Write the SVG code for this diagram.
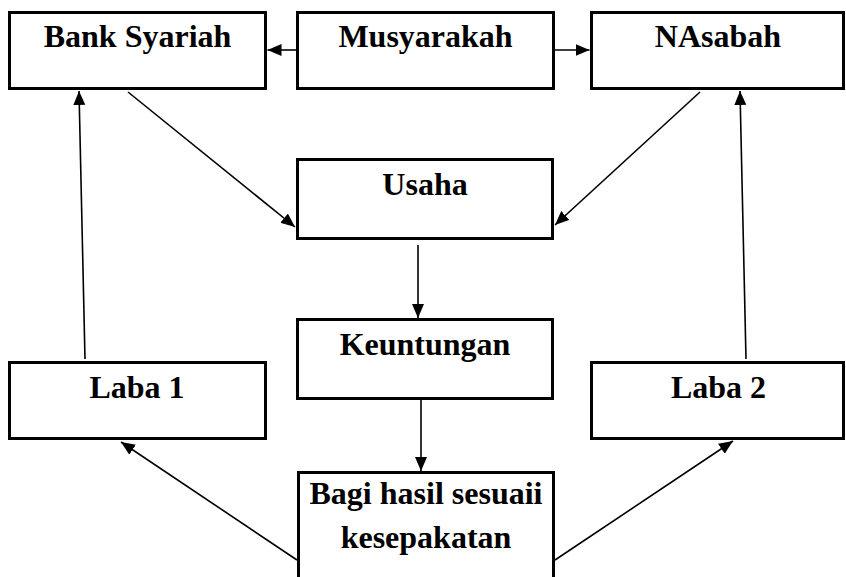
<svg xmlns="http://www.w3.org/2000/svg" width="846" height="577" viewBox="0 0 846 577">
<style>
.box{fill:#fff;stroke:#000;stroke-width:3}
.t{font-family:"Liberation Serif","Times New Roman",serif;font-weight:bold;font-size:32px;fill:#000;text-anchor:middle}
.c{stroke:#000;stroke-width:1.6;fill:none;marker-end:url(#ah)}
</style>
<defs>
<marker id="ah" markerUnits="userSpaceOnUse" markerWidth="15" markerHeight="13" refX="14" refY="6" orient="auto">
<path d="M0,0 L14,6 L0,12 z" fill="#000"/>
</marker>
</defs>
<rect width="846" height="577" fill="#fff"/>
<g id="connectors">
<line class="c" x1="296" y1="50" x2="267.5" y2="50"/>
<line class="c" x1="555" y1="50" x2="589.5" y2="50"/>
<line class="c" x1="128" y1="92" x2="295" y2="227"/>
<line class="c" x1="700" y1="92" x2="555" y2="225"/>
<line class="c" x1="85" y1="359" x2="79" y2="91"/>
<line class="c" x1="746" y1="359" x2="740" y2="91"/>
<line class="c" x1="418" y1="245" x2="418" y2="318"/>
<line class="c" x1="421" y1="400" x2="421" y2="471"/>
<line class="c" x1="297" y1="560" x2="121" y2="442"/>
<line class="c" x1="555" y1="560" x2="733" y2="441"/>
</g>
<g id="bank">
<rect class="box" x="9.5" y="12.5" width="256" height="76"/>
<text class="t" x="137.5" y="47">Bank Syariah</text>
</g>
<g id="musyarakah">
<rect class="box" x="297.5" y="12.5" width="256" height="76"/>
<text class="t" x="425.5" y="47">Musyarakah</text>
</g>
<g id="nasabah">
<rect class="box" x="591.5" y="12.5" width="252" height="76"/>
<text class="t" x="718" y="47">NAsabah</text>
</g>
<g id="usaha">
<rect class="box" x="297.5" y="159.5" width="255" height="79"/>
<text class="t" x="425" y="195">Usaha</text>
</g>
<g id="keuntungan">
<rect class="box" x="297.5" y="319.5" width="255" height="79"/>
<text class="t" x="425" y="355">Keuntungan</text>
</g>
<g id="laba1">
<rect class="box" x="9.5" y="362.5" width="256" height="76"/>
<text class="t" x="137" y="398">Laba 1</text>
</g>
<g id="laba2">
<rect class="box" x="591.5" y="362.5" width="252" height="76"/>
<text class="t" x="718.5" y="398">Laba 2</text>
</g>
<g id="bagi">
<rect class="box" x="298.5" y="472.5" width="255" height="130"/>
<text class="t" x="426" y="504">Bagi hasil sesuaii</text>
<text class="t" x="426" y="548">kesepakatan</text>
</g>
</svg>
